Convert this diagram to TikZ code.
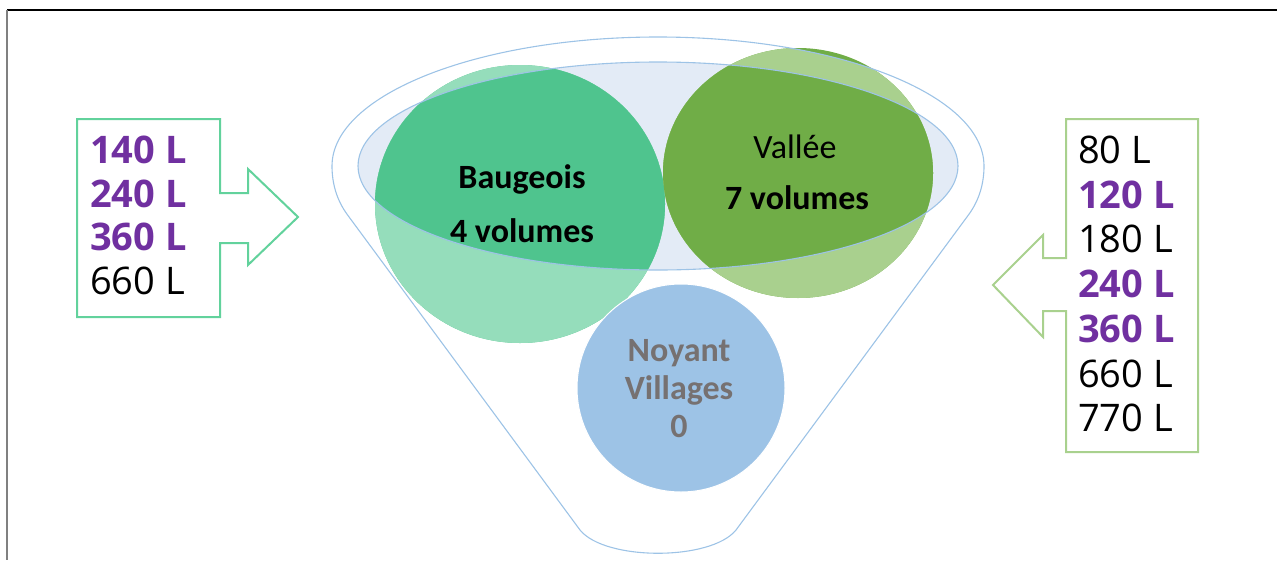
\documentclass[tikz,border=0pt]{standalone}
\usepackage{fontspec}
\setmainfont{Open Sans}
\newfontfamily\calfont{Carlito}
\usetikzlibrary{calc}

\definecolor{vio}{HTML}{7030A0}
\definecolor{rimblue}{HTML}{9DC3E6}
\definecolor{mouth}{HTML}{E3EBF6}
\definecolor{baugdark}{HTML}{4FC48E}
\definecolor{bauglight}{HTML}{95DDBB}
\definecolor{valdark}{HTML}{70AD47}
\definecolor{vallight}{HTML}{A9D08E}
\definecolor{noyfill}{HTML}{9DC3E6}
\definecolor{noytext}{HTML}{767171}
\definecolor{inbox}{HTML}{62D29C}
\definecolor{outbox}{HTML}{A9D18E}

\newcommand\lstfont{\fontsize{38}{44}\selectfont}
\newcommand\circfont{\calfont\fontsize{34}{40}\selectfont}
\newcommand\funnelpath{(347.6,215) -- (580,530) .. controls (605,561) and (711,561) .. (736,530)
    -- (968.4,215) .. controls (979.5,200) and (984,183) .. (984,166)
    arc [start angle=0, end angle=-180, x radius=326, y radius=129]
    .. controls (332,183) and (336.5,200) .. (347.6,215)}
\newcommand\mouthpath{(658,166) ellipse [x radius=300, y radius=104]}
\newcommand\bubbles[2]{%
  \fill[#1] (520,204) ellipse [x radius=145, y radius=139];
  \fill[#2] (798,173) ellipse [x radius=135, y radius=125];}

\tikzset{
  rim/.style={draw=rimblue,line width=1.1pt},
  hi/.style={anchor=base west,inner sep=0pt,text=vio,font=\lstfont\bfseries},
  lo/.style={anchor=base west,inner sep=0pt,text=black,font=\lstfont},
  lbl/.style={anchor=base,inner sep=0pt,font=\circfont},
  boxarrow/.style={line width=2pt,line join=miter,fill=white}
}

\begin{document}
\begin{tikzpicture}[x=1pt,y=-1pt]
  \useasboundingbox (0,0) rectangle (1277,560);

  % frame
  \draw[black,line width=2pt] (7,10) -- (1277,10);
  \draw[gray,line width=2pt] (7,10) -- (7,560);

  % funnel mouth and bubbles
  \fill[mouth] \mouthpath;
  \bubbles{baugdark}{valdark}
  \begin{scope}
    \clip \funnelpath;
    \bubbles{bauglight}{vallight}
  \end{scope}
  \begin{scope}
    \clip \mouthpath;
    \bubbles{baugdark}{valdark}
  \end{scope}
  \filldraw[noyfill,draw=white,line width=1pt] (681,388) circle [radius=104];

  % funnel outline
  \draw[rim] \mouthpath;
  \draw[rim] \funnelpath;

  % bubble labels
  \node[lbl,font=\circfont\bfseries] (baug) at (522,188) {Baugeois};
  \node[lbl,font=\circfont\bfseries] (baugvol) at (522,242) {4 volumes};
  \node[lbl] (val) at (795,158) {Vallée};
  \node[lbl,font=\circfont\bfseries] (valvol) at (797,209) {7 volumes};
  \node[lbl,font=\circfont\bfseries,text=noytext] (noy) at (679,361) {Noyant};
  \node[lbl,font=\circfont\bfseries,text=noytext] (noyvil) at (679,399) {Villages};
  \node[lbl,font=\circfont\bfseries,text=noytext] (noyvol) at (679,437) {0};

  % input box
  \draw[boxarrow,draw=inbox] (77,119) -- (220,119) -- (220,193) -- (248,193) -- (248,169)
    -- (298,217) -- (248,265) -- (248,243) -- (220,243) -- (220,317) -- (77,317) -- cycle;
  \foreach \st/\val [count=\i] in {hi/140 L, hi/240 L, hi/360 L, lo/660 L}
    \node[\st] (in-\i) at (90,{163.5+43.7*(\i-1)}) {\val};

  % output box
  \draw[boxarrow,draw=outbox] (1198,119) -- (1066,119) -- (1066,258) -- (1043,258) -- (1043,235)
    -- (993,285) -- (1043,337) -- (1043,311) -- (1066,311) -- (1066,452) -- (1198,452) -- cycle;
  \foreach \st/\val [count=\i] in {lo/80 L, hi/120 L, lo/180 L, hi/240 L, hi/360 L, lo/660 L, lo/770 L}
    \node[\st] (out-\i) at (1078,{163.5+44.7*(\i-1)}) {\val};
\end{tikzpicture}
\end{document}
